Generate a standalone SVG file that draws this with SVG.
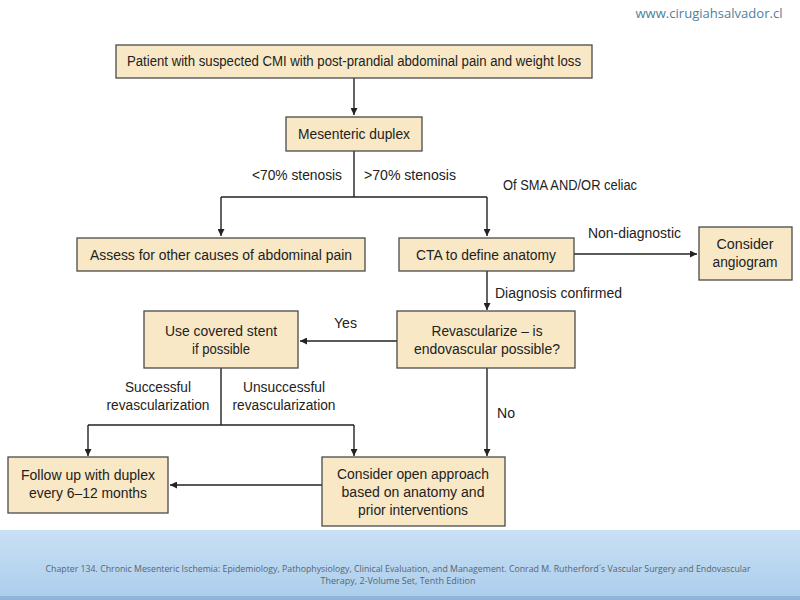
<svg xmlns="http://www.w3.org/2000/svg" width="800" height="600" viewBox="0 0 800 600">
<defs>
<marker id="ah" viewBox="0 0 10 10" refX="10" refY="5" markerWidth="7" markerHeight="7" markerUnits="userSpaceOnUse" orient="auto">
<path d="M0,0 L10,5 L0,10 z" fill="#222"/>
</marker>
<linearGradient id="band" x1="0" y1="0" x2="0" y2="1">
<stop offset="0" stop-color="#c9e0f4"/>
<stop offset="1" stop-color="#aacdec"/>
</linearGradient>
</defs>
<style>
.box{fill:#f8e8c6;stroke:#4a4a4a;stroke-width:1.3}
.t{font-family:"Liberation Sans",Arial,sans-serif;font-size:14px;fill:#222;text-anchor:middle}
.l{font-family:"Liberation Sans",Arial,sans-serif;font-size:14px;fill:#222}
.c{fill:none;stroke:#222;stroke-width:1.4}
.foot{font-family:"Open Sans","Liberation Sans",sans-serif;font-size:9px;fill:#5a6470;text-anchor:middle}
</style>
<rect x="0" y="0" width="800" height="600" fill="#ffffff"/>
<rect x="0" y="530" width="800" height="70" fill="url(#band)"/>
<rect x="0" y="596" width="800" height="4" fill="#8fb6d8"/>
<text x="709" y="18" font-family="'Open Sans','Liberation Sans',sans-serif" font-size="13" fill="#4f7f9c" text-anchor="middle" textLength="147" lengthAdjust="spacingAndGlyphs">www.cirugiahsalvador.cl</text>

<g id="connectors">
<path class="c" d="M354,78 V115" marker-end="url(#ah)"/>
<path class="c" d="M354,151 V197 M221,197 H487"/>
<path class="c" d="M221,197 V236" marker-end="url(#ah)"/>
<path class="c" d="M487,197 V236" marker-end="url(#ah)"/>
<path class="c" d="M574,254 H697" marker-end="url(#ah)"/>
<path class="c" d="M487,271 V310" marker-end="url(#ah)"/>
<path class="c" d="M397,341 H300" marker-end="url(#ah)"/>
<path class="c" d="M221,368 V425 M88,425 H354"/>
<path class="c" d="M88,425 V456" marker-end="url(#ah)"/>
<path class="c" d="M354,425 V456" marker-end="url(#ah)"/>
<path class="c" d="M487,368 V456" marker-end="url(#ah)"/>
<path class="c" d="M322,485 H170" marker-end="url(#ah)"/>
<text class="l" x="342" y="180" text-anchor="end" textLength="90" lengthAdjust="spacingAndGlyphs">&lt;70% stenosis</text>
<text class="l" x="364" y="180" textLength="92" lengthAdjust="spacingAndGlyphs">&gt;70% stenosis</text>
<text class="l" x="503" y="190" textLength="134" lengthAdjust="spacingAndGlyphs">Of SMA AND/OR celiac</text>
<text class="l" x="588" y="238" textLength="93" lengthAdjust="spacingAndGlyphs">Non-diagnostic</text>
<text class="l" x="495" y="298" textLength="127" lengthAdjust="spacingAndGlyphs">Diagnosis confirmed</text>
<text class="l" x="334" y="328" textLength="23" lengthAdjust="spacingAndGlyphs">Yes</text>
<text class="t" x="158" y="392" textLength="66" lengthAdjust="spacingAndGlyphs">Successful</text>
<text class="t" x="158" y="410" textLength="103" lengthAdjust="spacingAndGlyphs">revascularization</text>
<text class="t" x="284" y="392" textLength="82" lengthAdjust="spacingAndGlyphs">Unsuccessful</text>
<text class="t" x="284" y="410" textLength="103" lengthAdjust="spacingAndGlyphs">revascularization</text>
<text class="l" x="497" y="418" textLength="18" lengthAdjust="spacingAndGlyphs">No</text>
</g>

<g id="n-patient">
<rect class="box" x="116" y="45" width="476" height="33"/>
<text class="t" x="354" y="66" textLength="454" lengthAdjust="spacingAndGlyphs">Patient with suspected CMI with post-prandial abdominal pain and weight loss</text>
</g>
<g id="n-duplex">
<rect class="box" x="286" y="117" width="136" height="34"/>
<text class="t" x="354" y="139" textLength="112" lengthAdjust="spacingAndGlyphs">Mesenteric duplex</text>
</g>
<g id="n-assess">
<rect class="box" x="77" y="238" width="288" height="33"/>
<text class="t" x="221" y="260" textLength="262" lengthAdjust="spacingAndGlyphs">Assess for other causes of abdominal pain</text>
</g>
<g id="n-cta">
<rect class="box" x="399" y="238" width="175" height="33"/>
<text class="t" x="486" y="260" textLength="140" lengthAdjust="spacingAndGlyphs">CTA to define anatomy</text>
</g>
<g id="n-angiogram">
<rect class="box" x="699" y="227" width="93" height="53"/>
<text class="t" x="745" y="249" textLength="57" lengthAdjust="spacingAndGlyphs">Consider</text>
<text class="t" x="745" y="267" textLength="65" lengthAdjust="spacingAndGlyphs">angiogram</text>
</g>
<g id="n-revasc">
<rect class="box" x="397" y="311" width="178" height="57"/>
<text class="t" x="487" y="336" textLength="111" lengthAdjust="spacingAndGlyphs">Revascularize – is</text>
<text class="t" x="487" y="354" textLength="146" lengthAdjust="spacingAndGlyphs">endovascular possible?</text>
</g>
<g id="n-stent">
<rect class="box" x="144" y="311" width="154" height="57"/>
<text class="t" x="221" y="336" textLength="112" lengthAdjust="spacingAndGlyphs">Use covered stent</text>
<text class="t" x="221" y="354" textLength="58" lengthAdjust="spacingAndGlyphs">if possible</text>
</g>
<g id="n-followup">
<rect class="box" x="8" y="457" width="160" height="56"/>
<text class="t" x="88" y="480" textLength="134" lengthAdjust="spacingAndGlyphs">Follow up with duplex</text>
<text class="t" x="88" y="498" textLength="118" lengthAdjust="spacingAndGlyphs">every 6–12 months</text>
</g>
<g id="n-open">
<rect class="box" x="322" y="457" width="183" height="69"/>
<text class="t" x="413" y="479" textLength="152" lengthAdjust="spacingAndGlyphs">Consider open approach</text>
<text class="t" x="413" y="497" textLength="143" lengthAdjust="spacingAndGlyphs">based on anatomy and</text>
<text class="t" x="413" y="515" textLength="110" lengthAdjust="spacingAndGlyphs">prior interventions</text>
</g>

<text class="foot" x="398" y="572" textLength="705" lengthAdjust="spacingAndGlyphs">Chapter 134. Chronic Mesenteric Ischemia: Epidemiology, Pathophysiology, Clinical Evaluation, and Management. Conrad M. Rutherford´s Vascular Surgery and Endovascular</text>
<text class="foot" x="398" y="584">Therapy, 2-Volume Set, Tenth Edition</text>
</svg>
